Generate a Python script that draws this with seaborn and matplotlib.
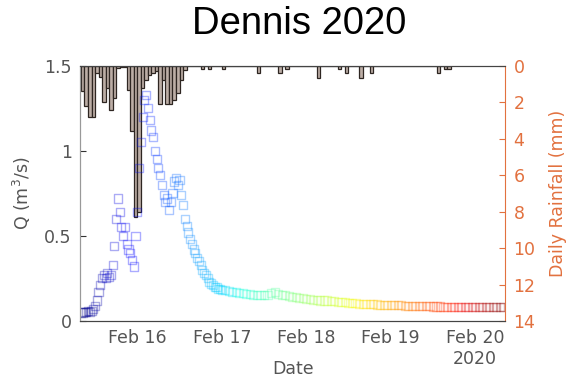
import numpy as np
import pandas as pd
import matplotlib
matplotlib.use("Agg")
import matplotlib.pyplot as plt
import matplotlib.dates as mdates
import seaborn as sns

# discharge, half-hourly for the first 40 h from Feb 15 08:00, then hourly
q_early = [0.05, 0.05, 0.055, 0.055, 0.06, 0.055, 0.06, 0.07, 0.09, 0.12,
           0.17, 0.21, 0.25, 0.27, 0.25, 0.28, 0.26, 0.27, 0.33, 0.44,
           0.6, 0.72, 0.64, 0.55, 0.5, 0.55, 0.45, 0.42, 0.4, 0.36,
           0.32, 0.5, 0.64, 0.9, 1.05, 1.2, 1.3, 1.33, 1.25, 1.18,
           1.12, 1.08, 1.0, 0.95, 0.9, 0.86, 0.8, 0.74, 0.7, 0.72,
           0.65, 0.7, 0.75, 0.82, 0.84, 0.8, 0.83, 0.74, 0.68, 0.6,
           0.56, 0.52, 0.48, 0.45, 0.42, 0.4, 0.37, 0.35, 0.33, 0.3,
           0.28, 0.27, 0.25, 0.23, 0.22, 0.21, 0.2, 0.2, 0.19, 0.19,
           0.18]
q_late = [0.18, 0.175, 0.17, 0.17, 0.165, 0.165, 0.16, 0.16, 0.155, 0.155,
          0.15, 0.15, 0.155, 0.165, 0.17, 0.16, 0.155, 0.15, 0.145, 0.14,
          0.14, 0.135, 0.135, 0.13, 0.13, 0.125, 0.125, 0.12, 0.12, 0.12,
          0.115, 0.115, 0.11, 0.11, 0.11, 0.108, 0.105, 0.105, 0.102, 0.1,
          0.1, 0.1, 0.098, 0.097, 0.096, 0.095, 0.095, 0.094, 0.093, 0.092,
          0.092, 0.09, 0.09, 0.09, 0.088, 0.088, 0.087, 0.087, 0.086, 0.085,
          0.085, 0.085, 0.084, 0.084, 0.083, 0.083, 0.083, 0.082, 0.082, 0.082,
          0.082, 0.081, 0.081, 0.08, 0.08, 0.08, 0.08, 0.08, 0.08, 0.08]

# hourly rainfall (mm) from Feb 15 08:00
rain = [1.4, 2.2, 2.8, 2.8, 0.4, 0.6, 2.0, 1.2, 2.4, 1.75,
        0.1, 0.05, 0.05, 1.3, 3.6, 8.3, 8.0, 1.2, 0.8, 0.5,
        0.4, 0.3, 2.1, 0.8, 2.1, 2.1, 1.9, 1.5, 0.8, 0.2,
        0, 0, 0, 0, 0.15, 0, 0.15, 0, 0, 0,
        0.15, 0, 0, 0, 0, 0, 0, 0, 0, 0,
        0.4, 0, 0, 0, 0, 0, 0.4, 0, 0.15, 0,
        0, 0, 0, 0, 0, 0, 0, 0.65, 0, 0,
        0, 0, 0, 0.15, 0, 0.4, 0, 0, 0, 0.65,
        0, 0, 0.4, 0, 0, 0, 0, 0, 0, 0,
        0, 0, 0, 0, 0, 0, 0, 0, 0, 0,
        0, 0.4, 0, 0.15, 0.15]

tick_days = ["2020-02-16", "2020-02-17", "2020-02-18", "2020-02-19", "2020-02-20"]
tick_labels = ["Feb 16", "Feb 17", "Feb 18", "Feb 19", "Feb 20\n2020"]

start = pd.Timestamp("2020-02-15 08:00")
t_q = pd.date_range(start, periods=len(q_early), freq="30min").append(
    pd.date_range(start + pd.Timedelta(hours=41), periods=len(q_late), freq="1h"))
df = pd.DataFrame({"time": t_q, "Q": q_early + q_late})
df["hours"] = (df["time"] - start) / pd.Timedelta(hours=1)
t_rain = pd.date_range(start, periods=len(rain), freq="1h")

orange = "#e2713f"
grey = "#555555"

sns.set_style("white")
plt.rcParams["font.family"] = ["DejaVu Sans"]

fig = plt.figure(figsize=(5.76, 3.83), dpi=100)
ax = fig.add_axes([0.139, 0.162, 0.738, 0.666])
ax2 = ax.twinx()

# rainfall hanging from the top
ax2.bar(mdates.date2num(t_rain), rain, width=1 / 24, align="edge",
        color="#bcaea6", edgecolor="#2e2622", linewidth=0.9)
ax2.set_ylim(14, 0)
ax2.set_yticks(range(0, 15, 2))
ax2.tick_params(axis="y", direction="in", length=4, colors=orange, labelsize=12.5, pad=6)
ax2.set_ylabel("Daily Rainfall (mm)", color=orange, fontsize=12.5, labelpad=10)

# discharge scatter on top
ax.set_zorder(ax2.get_zorder() + 1)
ax.patch.set_visible(False)
sns.scatterplot(data=df, x="time", y="Q", hue="hours", palette=matplotlib.colormaps["jet"],
                hue_norm=(0, 120), marker="s", s=34, linewidth=1.0, alpha=0.33,
                legend=False, ax=ax)
pts = ax.collections[-1]
pts.set_edgecolors(pts.get_facecolors())
pts.set_facecolors("none")

ax.set_xlim(mdates.date2num(pd.Timestamp("2020-02-15 07:45")),
            mdates.date2num(pd.Timestamp("2020-02-20 08:30")))
ax.set_ylim(0, 1.5)
ax.set_yticks([0, 0.5, 1, 1.5])
ax.set_yticklabels(["0", "0.5", "1", "1.5"])
ax.set_xticks(mdates.date2num(pd.to_datetime(tick_days)))
ax.set_xticklabels(tick_labels)
ax.tick_params(direction="in", length=4, colors="#333333", labelcolor=grey, labelsize=12.5, pad=6)
ax.set_xlabel("Date", color=grey, fontsize=12.5)
ax.xaxis.set_label_coords(0.5, -0.155)
ax.set_ylabel("Q (m$^3$/s)", color=grey, fontsize=12.5, labelpad=8)

for side in ["left", "bottom", "top"]:
    ax.spines[side].set_color("#444444")
    ax2.spines[side].set_color("#444444")
ax.spines["left"].set_color("#999999")
ax2.spines["left"].set_color("#999999")
ax.spines["right"].set_visible(False)
ax2.spines["right"].set_color(orange)

fig.text(0.52, 0.937, "Dennis 2020", ha="center", va="center", fontsize=27.5,
         color="black", family="Liberation Sans")

fig.savefig("out.png", dpi=100)
